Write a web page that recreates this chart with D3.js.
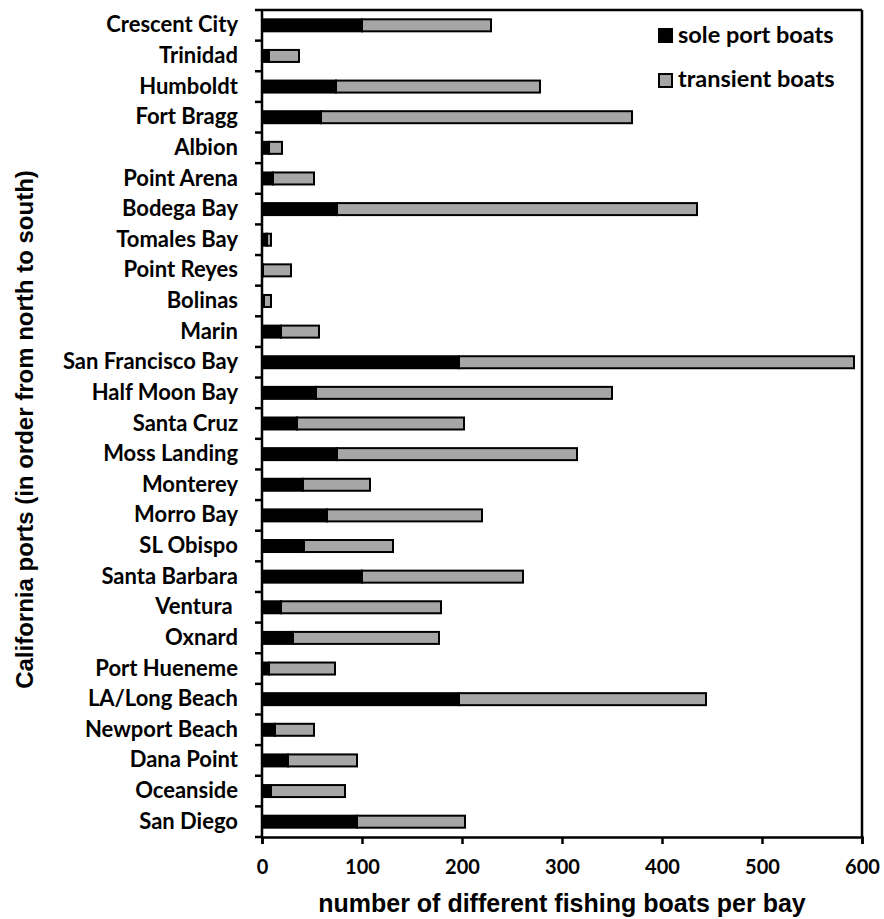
<!DOCTYPE html>
<html>
<head>
<meta charset="utf-8">
<script src="https://cdn.jsdelivr.net/npm/d3@7"></script>
<style>
  body { margin: 0; background: #fff; }
  text { font-family: "Lato", "Open Sans", sans-serif; font-weight: bold; fill: #000; white-space: pre; }
</style>
</head>
<body>
<svg id="chart"></svg>
<script>
// ports, north to south
var ports = ["Crescent City","Trinidad","Humboldt","Fort Bragg","Albion","Point Arena","Bodega Bay",
  "Tomales Bay","Point Reyes","Bolinas","Marin","San Francisco Bay","Half Moon Bay","Santa Cruz",
  "Moss Landing","Monterey","Morro Bay","SL Obispo","Santa Barbara","Ventura ","Oxnard",
  "Port Hueneme","LA/Long Beach","Newport Beach","Dana Point","Oceanside","San Diego"];

var soleBoats = [100,7,74,59,7,11,75,5,1,2,19,197,54,35,75,41,65,42,100,19,31,7,197,13,26,9,95];
var transientBoats = [129,30,204,311,13,41,360,4,28,7,38,395,296,167,240,67,155,89,161,160,146,66,247,39,69,74,108];

var xTicks = [0,100,200,300,400,500,600];

var drawGraph = function(w,h,c)
{
  var svg = d3.select(c)
              .attr("width",w)
              .attr("height",h);

  var margins = {top:10, bottom:82, left:262, right:22};
  var width = w - margins.left - margins.right;
  var height = h - margins.top - margins.bottom;

  var xScale = d3.scaleLinear()
                 .domain([0,600])
                 .range([0,width]);
  var yScale = d3.scaleBand()
                 .domain(ports)
                 .range([0,height]);

  var plot = svg.append("g")
                .attr("transform","translate("+margins.left+","+margins.top+")");

  var barH = 12;

  // sole port boats (black)
  plot.selectAll("rect.sole")
      .data(ports)
      .enter()
      .append("rect")
      .classed("sole",true)
      .attr("x",xScale(0))
      .attr("y",function(d){ return yScale(d)+(yScale.bandwidth()-barH)/2; })
      .attr("width",function(d,i){ return xScale(soleBoats[i])-xScale(0); })
      .attr("height",barH)
      .attr("fill","#000")
      .attr("stroke","#000")
      .attr("stroke-width",2);

  // transient boats (grey) stacked after the sole ones
  plot.selectAll("rect.transient")
      .data(ports)
      .enter()
      .append("rect")
      .classed("transient",true)
      .attr("x",function(d,i){ return xScale(soleBoats[i]); })
      .attr("y",function(d){ return yScale(d)+(yScale.bandwidth()-barH)/2; })
      .attr("width",function(d,i){ return xScale(soleBoats[i]+transientBoats[i])-xScale(soleBoats[i]); })
      .attr("height",barH)
      .attr("fill","#a6a6a6")
      .attr("stroke","#000")
      .attr("stroke-width",2);

  // frame: top and right lines
  plot.append("line")
      .attr("x1",0).attr("x2",width)
      .attr("y1",0).attr("y2",0)
      .attr("stroke","#000").attr("stroke-width",2.5);
  plot.append("line")
      .attr("x1",width).attr("x2",width)
      .attr("y1",0).attr("y2",height)
      .attr("stroke","#000").attr("stroke-width",2.5);

  // x axis
  var xAxis = d3.axisBottom(xScale)
                .tickValues(xTicks)
                .tickSize(7)
                .tickPadding(16);
  var gx = plot.append("g")
               .attr("transform","translate(0,"+height+")")
               .call(xAxis);
  gx.select(".domain").attr("stroke","#000").attr("stroke-width",2.5);
  gx.selectAll(".tick line").attr("stroke","#000").attr("stroke-width",2.5);
  gx.selectAll(".tick text").style("font-size","20px");

  // y axis labels
  var yAxis = d3.axisLeft(yScale)
                .tickSize(0)
                .tickPadding(24);
  var gy = plot.append("g").call(yAxis);
  gy.select(".domain").remove();
  gy.selectAll(".tick text").style("font-size","22px");

  // y axis line and ticks between ports
  plot.append("line")
      .attr("x1",0).attr("x2",0)
      .attr("y1",0).attr("y2",height)
      .attr("stroke","#000").attr("stroke-width",2.5);
  var bounds = ports.map(function(d){ return yScale(d); }).concat([height]);
  plot.selectAll("line.ytick")
      .data(bounds)
      .enter()
      .append("line")
      .classed("ytick",true)
      .attr("x1",-7).attr("x2",0)
      .attr("y1",function(d){ return d; })
      .attr("y2",function(d){ return d; })
      .attr("stroke","#000").attr("stroke-width",2.5);

  // axis titles
  svg.append("text")
     .attr("x",margins.left+width/2)
     .attr("y",h-7)
     .attr("text-anchor","middle")
     .style("font-family","'Liberation Sans', Arial, sans-serif")
     .style("font-size","25px")
     .text("number of different fishing boats per bay");

  svg.append("text")
     .attr("transform","translate(33,"+(margins.top+height/2+6)+") rotate(-90)")
     .attr("text-anchor","middle")
     .style("font-family","'Liberation Sans', Arial, sans-serif")
     .style("font-size","24px")
     .text("California ports (in order from north to south)");

  legend(svg,margins.left+width);
}

var legend = function(svg,right)
{
  var items = [{name:"sole port boats",fill:"#000"},{name:"transient boats",fill:"#a6a6a6"}];
  var lg = svg.append("g")
              .attr("transform","translate("+(right-204)+",28)");
  lg.selectAll("rect")
    .data(items)
    .enter()
    .append("rect")
    .attr("x",1)
    .attr("y",function(d,i){ return i*45+1; })
    .attr("width",13)
    .attr("height",13)
    .attr("fill",function(d){ return d.fill; })
    .attr("stroke","#000")
    .attr("stroke-width",2);
  lg.selectAll("text")
    .data(items)
    .enter()
    .append("text")
    .attr("x",20)
    .attr("y",function(d,i){ return i*44+15; })
    .style("font-size","23.5px")
    .text(function(d){ return d.name; });
}

drawGraph(884,919,"#chart");
</script>
</body>
</html>
